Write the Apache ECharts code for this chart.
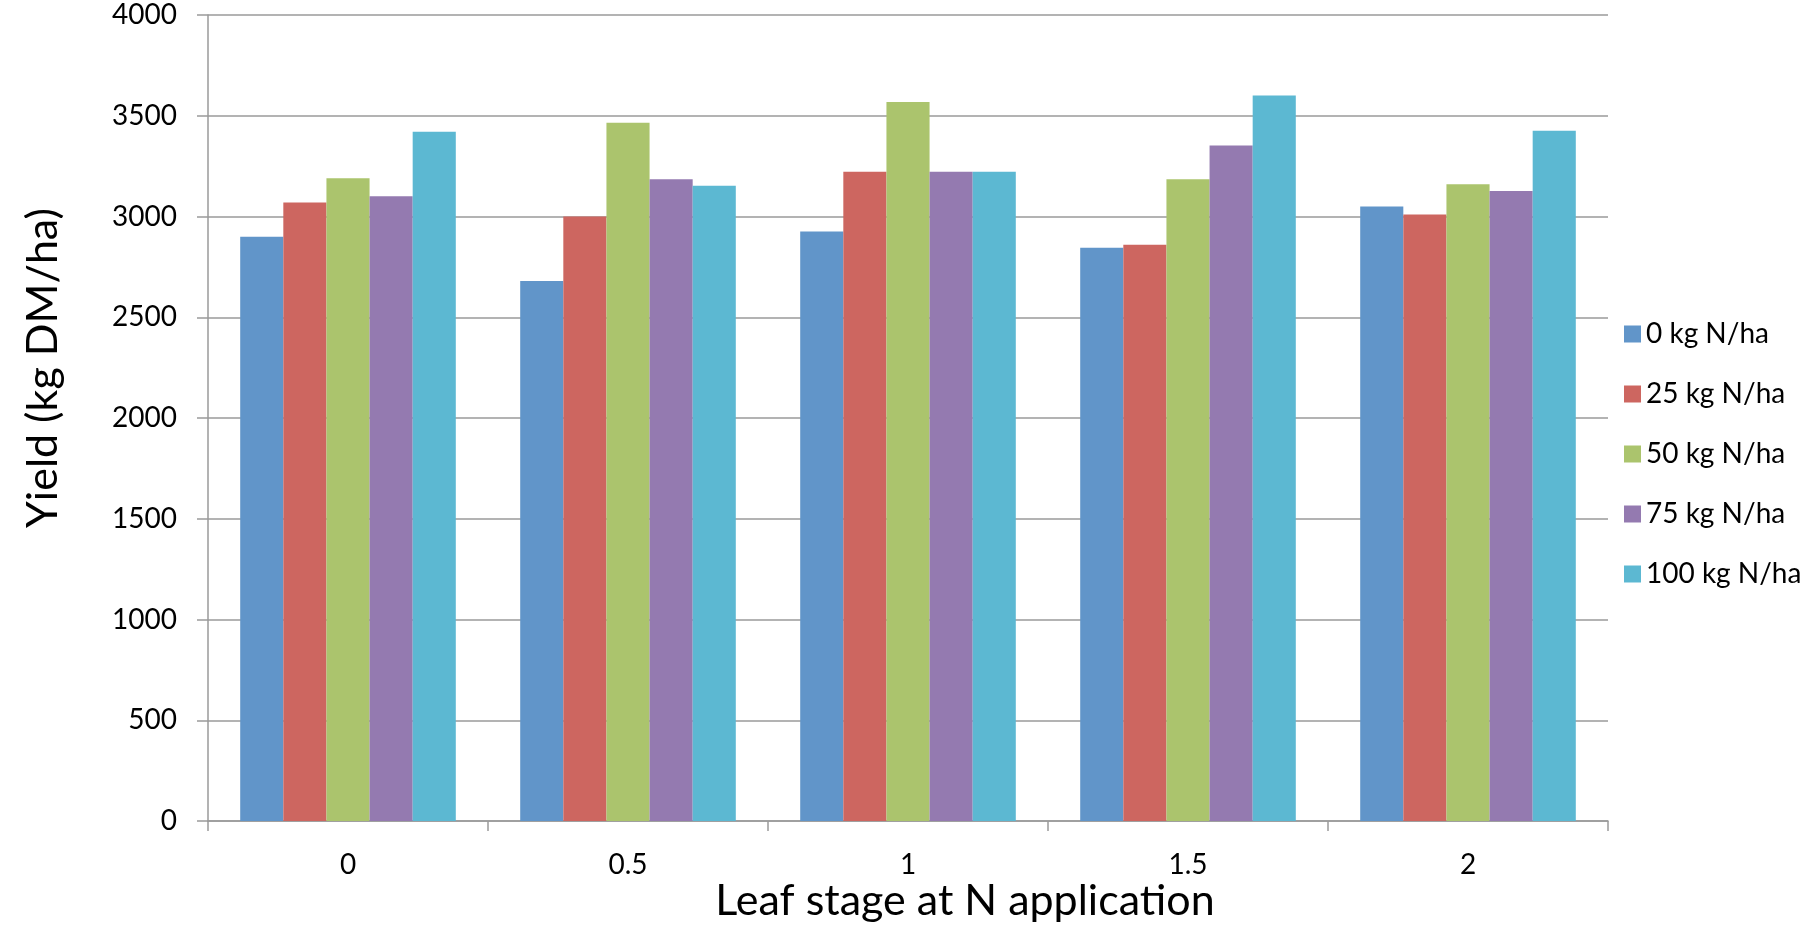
<!DOCTYPE html>
<html>
<head>
<meta charset="utf-8">
<script src="https://cdn.jsdelivr.net/npm/echarts@6/dist/echarts.min.js"></script>
<style>
html,body{margin:0;padding:0;background:#fff;}
#chart{width:1818px;height:926px;}
</style>
</head>
<body>
<div id="chart"></div>
<script>
const categories = ['0', '0.5', '1', '1.5', '2'];
const seriesNames = ['0 kg N/ha', '25 kg N/ha', '50 kg N/ha', '75 kg N/ha', '100 kg N/ha'];
const n0 = [2900, 2680, 2925, 2845, 3050];
const n25 = [3070, 3000, 3222, 2860, 3010];
const n50 = [3190, 3465, 3568, 3185, 3160];
const n75 = [3100, 3185, 3222, 3352, 3127];
const n100 = [3420, 3153, 3222, 3600, 3425];
const colors = ['#6195c9', '#cd6660', '#abc46d', '#947ab0', '#5cb8d2'];
const values = [n0, n25, n50, n75, n100];

const font = 'Lato, "Open Sans", sans-serif';
const chart = echarts.init(document.getElementById('chart'));
chart.setOption({
  animation: false,
  textStyle: { fontFamily: font },
  grid: { left: 208, right: 210, top: 15, bottom: 105, containLabel: false, outerBoundsMode: 'none' },
  legend: {
    orient: 'vertical',
    left: 1619,
    top: 314,
    itemWidth: 17,
    itemHeight: 17,
    itemGap: 30,
    icon: 'rect',
    textStyle: { fontFamily: font, fontSize: 28, color: '#000', lineHeight: 30 },
    data: seriesNames
  },
  xAxis: {
    type: 'category',
    data: categories,
    name: 'Leaf stage at N application',
    nameLocation: 'middle',
    nameGap: 57,
    nameMoveOverlap: false,
    nameTextStyle: { fontFamily: font, fontSize: 43, color: '#000', lineHeight: 46, padding: [0, 0, 0, 114] },
    axisLine: { lineStyle: { color: '#9a9a9a', width: 1.5 } },
    axisTick: { show: true, length: 10, lineStyle: { color: '#9a9a9a', width: 1.5 } },
    axisLabel: { fontFamily: font, fontSize: 28, color: '#000', margin: 30 }
  },
  yAxis: {
    type: 'value',
    min: 0,
    max: 4000,
    interval: 500,
    name: 'Yield (kg DM/ha)',
    nameLocation: 'middle',
    nameGap: 143,
    nameMoveOverlap: false,
    nameTextStyle: { fontFamily: font, fontSize: 43, color: '#000', padding: [0, 0, 0, 100] },
    axisLine: { show: true, lineStyle: { color: '#9a9a9a', width: 1.5 } },
    axisTick: { show: true, length: 11, lineStyle: { color: '#9a9a9a', width: 1.5 } },
    axisLabel: { fontFamily: font, fontSize: 28, color: '#000', margin: 31, formatter: function (v) { return String(v); } },
    splitLine: { lineStyle: { color: '#9a9a9a', width: 1.5 } }
  },
  series: seriesNames.map((name, i) => ({
    name: name,
    type: 'bar',
    data: values[i],
    barGap: '0%',
    barCategoryGap: '23%',
    itemStyle: { color: colors[i] }
  }))
});
</script>
</body>
</html>
